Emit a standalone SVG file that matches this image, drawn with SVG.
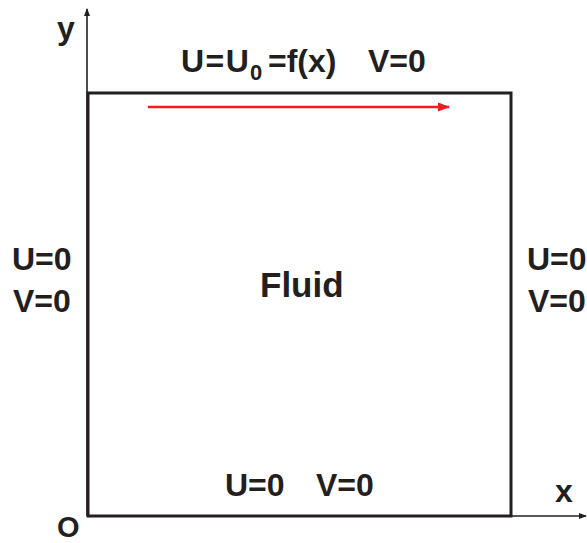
<svg xmlns="http://www.w3.org/2000/svg" width="587" height="543" viewBox="0 0 587 543">
<style>
.t{font-family:"Liberation Sans",Arial,sans-serif;font-weight:bold;font-size:32px;fill:#231f20}
.ax{stroke:#231f20;stroke-width:1.6;fill:none}
.box{stroke:#231f20;stroke-width:3;fill:none}
</style>
<defs>
<marker id="ah" markerWidth="8" markerHeight="8" refX="7" refY="4" orient="auto" markerUnits="userSpaceOnUse">
<path d="M0,1 L8,4 L0,7 Z" fill="#231f20"/>
</marker>
<marker id="rh" markerWidth="12" markerHeight="10" refX="11" refY="5" orient="auto" markerUnits="userSpaceOnUse">
<path d="M0,0.5 L12,5 L0,9.5 Z" fill="#ed1c24"/>
</marker>
</defs>
<rect width="587" height="543" fill="#ffffff"/>
<g id="connectors">
<line class="ax" x1="87" y1="516" x2="87" y2="9" marker-end="url(#ah)"/>
<line class="ax" x1="87" y1="516" x2="586" y2="516" marker-end="url(#ah)"/>
<line x1="148" y1="107" x2="449" y2="107" stroke="#ed1c24" stroke-width="2.4" marker-end="url(#rh)"/>
</g>
<g id="cavity">
<rect class="box" x="88" y="93" width="423" height="423"/>
</g>
<g id="axis-labels">
<text class="t" x="57" y="39">y</text>
<text class="t" x="555" y="502">x</text>
<text class="t" x="57" y="537" style="font-size:29px">O</text>
</g>
<g id="top-bc">
<text class="t" x="181" y="72" style="letter-spacing:1.5px">U=U</text>
<text class="t" x="250" y="80" style="font-size:22px">0</text>
<text class="t" x="268" y="72">=f(x)</text>
<text class="t" x="368" y="72">V=0</text>
</g>
<g id="left-bc">
<text class="t" x="12" y="270">U=0</text>
<text class="t" x="13" y="312">V=0</text>
</g>
<g id="right-bc">
<text class="t" x="527" y="270">U=0</text>
<text class="t" x="528" y="312">V=0</text>
</g>
<g id="bottom-bc">
<text class="t" x="225" y="496">U=0</text>
<text class="t" x="316" y="496">V=0</text>
</g>
<g id="fluid">
<text class="t" x="260" y="297" style="font-size:35px">Fluid</text>
</g>
</svg>
